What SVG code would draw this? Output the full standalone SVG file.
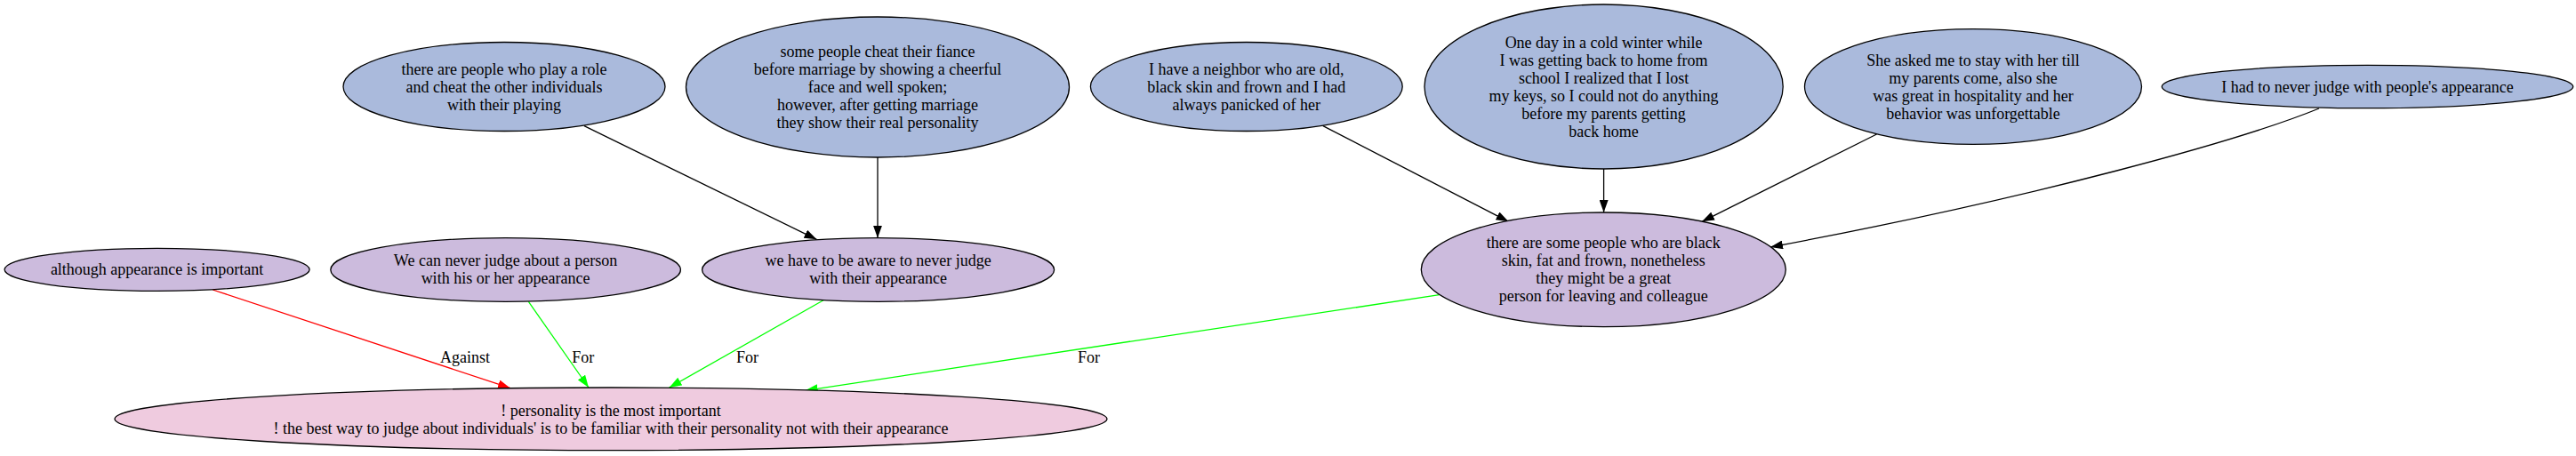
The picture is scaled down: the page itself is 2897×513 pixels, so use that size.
<svg xmlns="http://www.w3.org/2000/svg" width="2897" height="513" viewBox="0 0 2897 513">
<style>
text{font-family:"Liberation Serif","Times New Roman",serif;font-size:18px;fill:#000;text-anchor:middle}
.n ellipse{stroke:#000;stroke-width:1.3}
.b{fill:#aabadc}.p{fill:#ccbbdd}.k{fill:#efcbdf}
.e path{fill:none;stroke-width:1.3}
.blk{stroke:#000;marker-end:url(#ab)}
.red{stroke:#ff0000;marker-end:url(#ar)}
.grn{stroke:#00ff00;marker-end:url(#ag)}
</style>
<defs>
<marker id="ab" markerUnits="userSpaceOnUse" viewBox="0 0 14 10" refX="14" refY="5" markerWidth="14" markerHeight="10" orient="auto"><path d="M0,0L14,5L0,10z" fill="#000"/></marker>
<marker id="ar" markerUnits="userSpaceOnUse" viewBox="0 0 14 10" refX="14" refY="5" markerWidth="14" markerHeight="10" orient="auto"><path d="M0,0L14,5L0,10z" fill="#ff0000"/></marker>
<marker id="ag" markerUnits="userSpaceOnUse" viewBox="0 0 14 10" refX="14" refY="5" markerWidth="14" markerHeight="10" orient="auto"><path d="M0,0L14,5L0,10z" fill="#00ff00"/></marker>
</defs>
<rect width="2897" height="513" fill="#fff"/>
<g id="edges" class="e">
<path class="blk" d="M657,141.7L918.4,269.3"/>
<path class="blk" d="M987,176.7L987,267.7"/>
<path class="blk" d="M1487.9,141.7L1696.5,249.3"/>
<path class="blk" d="M1803.6,190L1803.6,239"/>
<path class="blk" d="M2110.5,151L1914,249.3"/>
<path class="blk" d="M2608,122C2520,158 2290,222 1991,278"/>
<path class="red" d="M239.2,326L574,436.7"/>
<path class="grn" d="M594.4,339.3L662,436"/>
<path class="grn" d="M926,337.7L752.6,436"/>
<path class="grn" d="M1618.7,331.7L905.7,439.3"/>
<text x="523" y="407.7">Against</text>
<text x="655.7" y="407.7">For</text>
<text x="840.6" y="407.7">For</text>
<text x="1224.5" y="407.7">For</text>
</g>
<g id="n1" class="n"><ellipse class="b" cx="567" cy="97.5" rx="181" ry="50"/>
<text x="567" y="83.5">there are people who play a role</text><text x="567" y="103.5">and cheat the other individuals</text><text x="567" y="123.5">with their playing</text></g>
<g id="n2" class="n"><ellipse class="b" cx="987" cy="98" rx="215.5" ry="79"/>
<text x="987" y="64.3">some people cheat their fiance</text><text x="987" y="84.3">before marriage by showing a cheerful</text><text x="987" y="104.3">face and well spoken;</text><text x="987" y="124.3">however, after getting marriage</text><text x="987" y="144.3">they show their real personality</text></g>
<g id="n3" class="n"><ellipse class="b" cx="1401.8" cy="97.5" rx="175.4" ry="50"/>
<text x="1401.8" y="83.5">I have a neighbor who are old,</text><text x="1401.8" y="103.5">black skin and frown and I had</text><text x="1401.8" y="123.5">always panicked of her</text></g>
<g id="n4" class="n"><ellipse class="b" cx="1803.6" cy="97.5" rx="201.6" ry="92.5"/>
<text x="1803.6" y="53.7">One day in a cold winter while</text><text x="1803.6" y="73.7">I was getting back to home from</text><text x="1803.6" y="93.7">school I realized that I lost</text><text x="1803.6" y="113.7">my keys, so I could not do anything</text><text x="1803.6" y="133.7">before my parents getting</text><text x="1803.6" y="153.7">back home</text></g>
<g id="n5" class="n"><ellipse class="b" cx="2219" cy="97.5" rx="189.5" ry="64.8"/>
<text x="2219" y="73.7">She asked me to stay with her till</text><text x="2219" y="93.7">my parents come, also she</text><text x="2219" y="113.7">was great in hospitality and her</text><text x="2219" y="133.7">behavior was unforgettable</text></g>
<g id="n6" class="n"><ellipse class="b" cx="2662.5" cy="97.5" rx="231.2" ry="24.2"/>
<text x="2662.5" y="103.7">I had to never judge with people's appearance</text></g>
<g id="n7" class="n"><ellipse class="p" cx="176.6" cy="303.3" rx="171.5" ry="24"/>
<text x="176.6" y="309.3">although appearance is important</text></g>
<g id="n8" class="n"><ellipse class="p" cx="568.6" cy="303.5" rx="196.8" ry="35.8"/>
<text x="568.6" y="299.3">We can never judge about a person</text><text x="568.6" y="319.3">with his or her appearance</text></g>
<g id="n9" class="n"><ellipse class="p" cx="987.6" cy="303.5" rx="198" ry="35.8"/>
<text x="987.6" y="299.3">we have to be aware to never judge</text><text x="987.6" y="319.3">with their appearance</text></g>
<g id="n10" class="n"><ellipse class="p" cx="1803.3" cy="303.3" rx="205" ry="64.3"/>
<text x="1803.3" y="279.3">there are some people who are black</text><text x="1803.3" y="299.3">skin, fat and frown, nonetheless</text><text x="1803.3" y="319.3">they might be a great</text><text x="1803.3" y="339.3">person for leaving and colleague</text></g>
<g id="n11" class="n"><ellipse class="k" cx="687" cy="471.3" rx="558" ry="35.3"/>
<text x="687" y="467.7">! personality is the most important</text><text x="687" y="487.7">! the best way to judge about individuals' is to be familiar with their personality not with their appearance</text></g>
</svg>
